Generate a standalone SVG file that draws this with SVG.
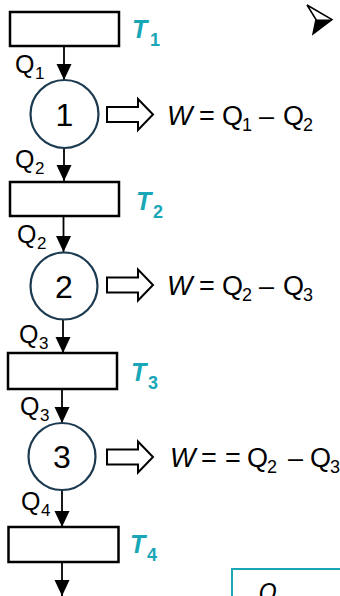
<svg xmlns="http://www.w3.org/2000/svg" width="340" height="596" viewBox="0 0 340 596">
<style>
.box{fill:#fff;stroke:#000;stroke-width:2.5}
.eng{fill:#fff;stroke:#1c3a50;stroke-width:2.2}
.flow{stroke:#000;stroke-width:1.8;fill:none}
.blk{fill:#fff;stroke:#000;stroke-width:2;stroke-linejoin:miter}
.t{font-family:"Liberation Sans",Arial,sans-serif;fill:#000}
.q{font-size:25px}
.qs{font-size:17px}
.num{font-size:32px;text-anchor:middle}
.eq{font-size:27px}
.eqs{font-size:18px}
.T{font-family:"Liberation Sans",Arial,sans-serif;fill:#19a7b8;font-weight:bold;font-style:italic;font-size:25px}
.Ts{font-family:"Liberation Sans",Arial,sans-serif;fill:#19a7b8;font-weight:bold;font-size:18px}
</style>
<defs>
<marker id="ah" markerUnits="userSpaceOnUse" markerWidth="16" markerHeight="16" viewBox="0 0 16 16" refX="16" refY="8" orient="auto">
<path d="M0,0.5 L16,8 L0,15.5 Z" fill="#000"/>
</marker>
</defs>

<g id="connectors">
<line class="flow" x1="64" y1="47" x2="64" y2="80" marker-end="url(#ah)"/>
<line class="flow" x1="64" y1="148" x2="64" y2="181" marker-end="url(#ah)"/>
<line class="flow" x1="63.5" y1="217" x2="63.5" y2="252" marker-end="url(#ah)"/>
<line class="flow" x1="63" y1="320" x2="63" y2="353" marker-end="url(#ah)"/>
<line class="flow" x1="62" y1="390" x2="62" y2="423" marker-end="url(#ah)"/>
<line class="flow" x1="62" y1="490" x2="62" y2="527" marker-end="url(#ah)"/>
<line class="flow" x1="62" y1="562" x2="62" y2="596" marker-end="url(#ah)"/>
<polygon class="blk" points="107,107 138,107 138,99 153,114.5 138,130 138,122 107,122"/>
<polygon class="blk" points="107,277.5 138,277.5 138,269.5 153,285 138,300.5 138,292.5 107,292.5"/>
<polygon class="blk" points="107,449.5 138,449.5 138,441.5 153,457 138,472.5 138,464.5 107,464.5"/>
</g>

<g id="res1">
<rect class="box" x="10" y="12" width="109" height="34"/>
<text class="T" x="132" y="38">T</text><text class="Ts" x="150" y="46">1</text>
</g>
<g id="res2">
<rect class="box" x="10" y="182" width="109" height="34"/>
<text class="T" x="136" y="210">T</text><text class="Ts" x="153" y="218">2</text>
</g>
<g id="res3">
<rect class="box" x="8" y="353" width="109" height="36"/>
<text class="T" x="131" y="381">T</text><text class="Ts" x="148" y="389">3</text>
</g>
<g id="res4">
<rect class="box" x="8.5" y="527" width="110" height="35"/>
<text class="T" x="130" y="553">T</text><text class="Ts" x="147" y="561">4</text>
</g>

<g id="engine1">
<circle class="eng" cx="64.5" cy="114" r="34"/>
<text class="t num" x="64.5" y="126">1</text>
</g>
<g id="engine2">
<circle class="eng" cx="64" cy="286" r="33.5"/>
<text class="t num" x="64" y="297.5">2</text>
</g>
<g id="engine3">
<circle class="eng" cx="62" cy="456.5" r="33.5"/>
<text class="t num" x="62" y="468">3</text>
</g>

<g id="labels">
<text class="t q" x="15" y="73">Q</text><text class="t qs" x="35" y="79">1</text>
<text class="t q" x="15" y="168">Q</text><text class="t qs" x="35" y="174">2</text>
<text class="t q" x="17" y="243">Q</text><text class="t qs" x="37" y="249">2</text>
<text class="t q" x="19" y="343">Q</text><text class="t qs" x="39" y="349">3</text>
<text class="t q" x="20" y="415">Q</text><text class="t qs" x="40" y="421">3</text>
<text class="t q" x="21" y="510">Q</text><text class="t qs" x="41" y="516">4</text>
</g>

<g id="eq1">
<text class="t eq" x="167" y="125"><tspan font-style="italic">W</tspan><tspan x="199">=</tspan><tspan x="222">Q</tspan><tspan class="eqs" x="242" y="131">1</tspan><tspan x="259" y="125">–</tspan><tspan x="283">Q</tspan><tspan class="eqs" x="303" y="131">2</tspan></text>
</g>
<g id="eq2">
<text class="t eq" x="167" y="295"><tspan font-style="italic">W</tspan><tspan x="199">=</tspan><tspan x="222">Q</tspan><tspan class="eqs" x="242" y="301">2</tspan><tspan x="259" y="295">–</tspan><tspan x="283">Q</tspan><tspan class="eqs" x="303" y="301">3</tspan></text>
</g>
<g id="eq3">
<text class="t eq" x="170" y="466.5"><tspan font-style="italic">W</tspan><tspan x="201">=</tspan><tspan x="225">=</tspan><tspan x="247">Q</tspan><tspan class="eqs" x="267" y="473">2</tspan><tspan x="288" y="466.5">–</tspan><tspan x="310">Q</tspan><tspan class="eqs" x="330" y="473">3</tspan></text>
</g>

<g id="bullet">
<polygon points="307,5 332,19.5 313,34 316,19.5" fill="#fff" stroke="#000" stroke-width="1.5" stroke-linejoin="miter"/>
<polygon points="316,19.5 332,19.5 313,34" fill="#000"/>
</g>

<g id="box5">
<rect x="232" y="569" width="120" height="40" fill="#fff" stroke="#19a7b8" stroke-width="2"/>
<text x="258" y="601" font-family="'Open Sans','Liberation Sans',sans-serif" font-style="italic" font-size="26" fill="#000">Q</text>
</g>
</svg>
